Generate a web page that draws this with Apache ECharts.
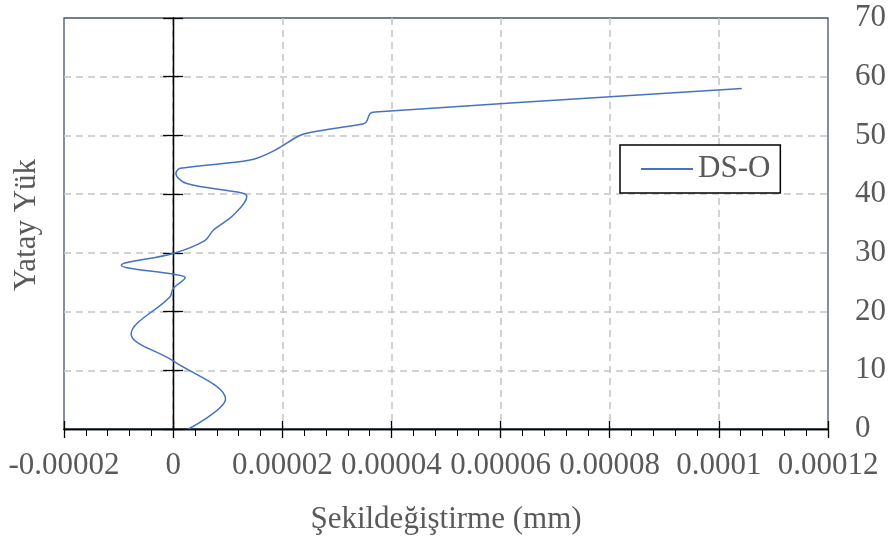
<!DOCTYPE html>
<html>
<head>
<meta charset="utf-8">
<title>DS-O</title>
<script src="https://cdn.jsdelivr.net/npm/echarts@6/dist/echarts.min.js"></script>
<style>
  html, body { margin: 0; padding: 0; background: #ffffff; }
  #chart { width: 895px; height: 550px; }
</style>
</head>
<body>
<div id="chart"></div>
<script>
// Horizontal load (kN) and measured strain (mm) for specimen DS-O
const seriesName = 'DS-O';
const loadValues = [0, 5.1, 11.6, 16.2, 22.5, 23.9, 25.8, 26.3, 27.9, 29.9, 32.1, 33.9, 36.4, 39.6, 40.2, 41.8, 43.5, 44.4, 45.8, 47.5, 49.9, 50.5, 52.0, 52.3, 53.75, 54.0, 58.0];
const strainValues = [0.0000028, 0.0000096, 0, -0.0000077, -0.0000006, 0, 0.0000022, 0.0000004, -0.0000095, 0, 0.0000058, 0.0000074, 0.000011, 0.0000135, 0.0000126, 0.0000025, 0.0000005, 0.0000013, 0.0000141, 0.0000187, 0.000023, 0.0000251, 0.0000349, 0.0000354, 0.0000361, 0.000037, 0.0001042];

// Axis ranges and tick labels
const xMin = -0.00002, xMax = 0.00012, xStep = 0.00002;
const xTickLabels = ['-0.00002', '0', '0.00002', '0.00004', '0.00006', '0.00008', '0.0001', '0.00012'];
const yMin = 0, yMax = 70, yStep = 10;
const xTitle = 'Şekildeğiştirme (mm)';
const yTitle = 'Yatay Yük';

const FONT = 'Liberation Serif';
const TEXT_COLOR = '#595959';
const GRID_COLOR = '#c3c3c3';

function fmtX(v) {
  const idx = Math.round((v - xMin) / xStep);
  return xTickLabels[idx] !== undefined ? xTickLabels[idx] : '';
}

const points = loadValues.map((y, i) => [strainValues[i], y]);

const chart = echarts.init(document.getElementById('chart'), null, { renderer: 'canvas' });

const baseX = { type: 'value', min: xMin, max: xMax, interval: xStep, position: 'bottom' };
const baseY = { type: 'value', min: yMin, max: yMax, interval: yStep };
const dashed = {
  show: true,
  showMinLine: false,
  showMaxLine: false,
  lineStyle: { color: GRID_COLOR, width: 1.5, type: [7, 5] }
};

chart.setOption({
  animation: false,
  backgroundColor: '#ffffff',
  grid: {
    left: 64, right: 67, top: 18, bottom: 121,
    containLabel: false,
    outerBoundsMode: 'none',
    show: true,
    borderColor: '#44546a',
    borderWidth: 1.3,
    backgroundColor: 'transparent'
  },
  xAxis: [
    Object.assign({}, baseX, {
      axisLine: { onZero: true, lineStyle: { color: '#000', width: 1.3 } },
      axisTick: { show: true, inside: false, length: 9, lineStyle: { color: '#000', width: 1.3 } },
      minorTick: { show: true, splitNumber: 5, length: 7, lineStyle: { color: '#000', width: 1 } },
      axisLabel: {
        show: true, margin: 21, color: TEXT_COLOR, fontFamily: FONT, fontSize: 31,
        formatter: fmtX
      },
      splitLine: dashed,
      name: xTitle,
      nameLocation: 'middle',
      nameGap: 75,
      nameTextStyle: { color: TEXT_COLOR, fontFamily: FONT, fontSize: 31 }
    }),
    Object.assign({}, baseX, {
      axisLine: { onZero: true, lineStyle: { color: '#000', width: 1.3 } },
      axisTick: { show: true, inside: true, length: 8, lineStyle: { color: '#000', width: 1.3 } },
      axisLabel: { show: false },
      splitLine: { show: false }
    })
  ],
  yAxis: [
    Object.assign({}, baseY, {
      position: 'left',
      axisLine: { show: true, onZero: true, onZeroAxisIndex: 0, lineStyle: { color: '#000', width: 1.3 } },
      axisTick: { show: true, inside: false, length: 10, lineStyle: { color: '#000', width: 1.3 } },
      axisLabel: { show: false },
      splitLine: dashed
    }),
    Object.assign({}, baseY, {
      position: 'left',
      axisLine: { show: true, onZero: true, onZeroAxisIndex: 0, lineStyle: { color: '#000', width: 1.3 } },
      axisTick: { show: true, inside: true, length: 10, lineStyle: { color: '#000', width: 1.3 } },
      axisLabel: { show: false },
      splitLine: { show: false }
    }),
    Object.assign({}, baseY, {
      position: 'right',
      axisLine: { show: false, onZero: false },
      axisTick: { show: false },
      axisLabel: { show: true, margin: 27, color: TEXT_COLOR, fontFamily: FONT, fontSize: 31 },
      splitLine: { show: false }
    })
  ],
  legend: {
    data: [seriesName],
    left: 620,
    top: 145,
    orient: 'vertical',
    padding: [8, 10, 8, 20],
    itemWidth: 52,
    itemHeight: 14,
    itemStyle: { opacity: 0 },
    backgroundColor: '#ffffff',
    borderColor: '#000000',
    borderWidth: 1.5,
    borderRadius: 0,
    textStyle: { color: TEXT_COLOR, fontFamily: FONT, fontSize: 31, lineHeight: 32 }
  },
  graphic: [
    {
      type: 'text',
      x: 27,
      y: 225,
      rotation: Math.PI / 2,
      style: {
        text: yTitle,
        fill: TEXT_COLOR,
        font: '31px "' + FONT + '"',
        align: 'center',
        verticalAlign: 'middle'
      }
    }
  ],
  series: [
    {
      name: seriesName,
      type: 'line',
      xAxisIndex: 0,
      yAxisIndex: 0,
      data: points,
      smooth: 0.35,
      symbol: 'none',
      lineStyle: { color: '#4472c4', width: 1.5 },
      itemStyle: { color: '#4472c4' },
      z: 3
    }
  ]
});
</script>
</body>
</html>
